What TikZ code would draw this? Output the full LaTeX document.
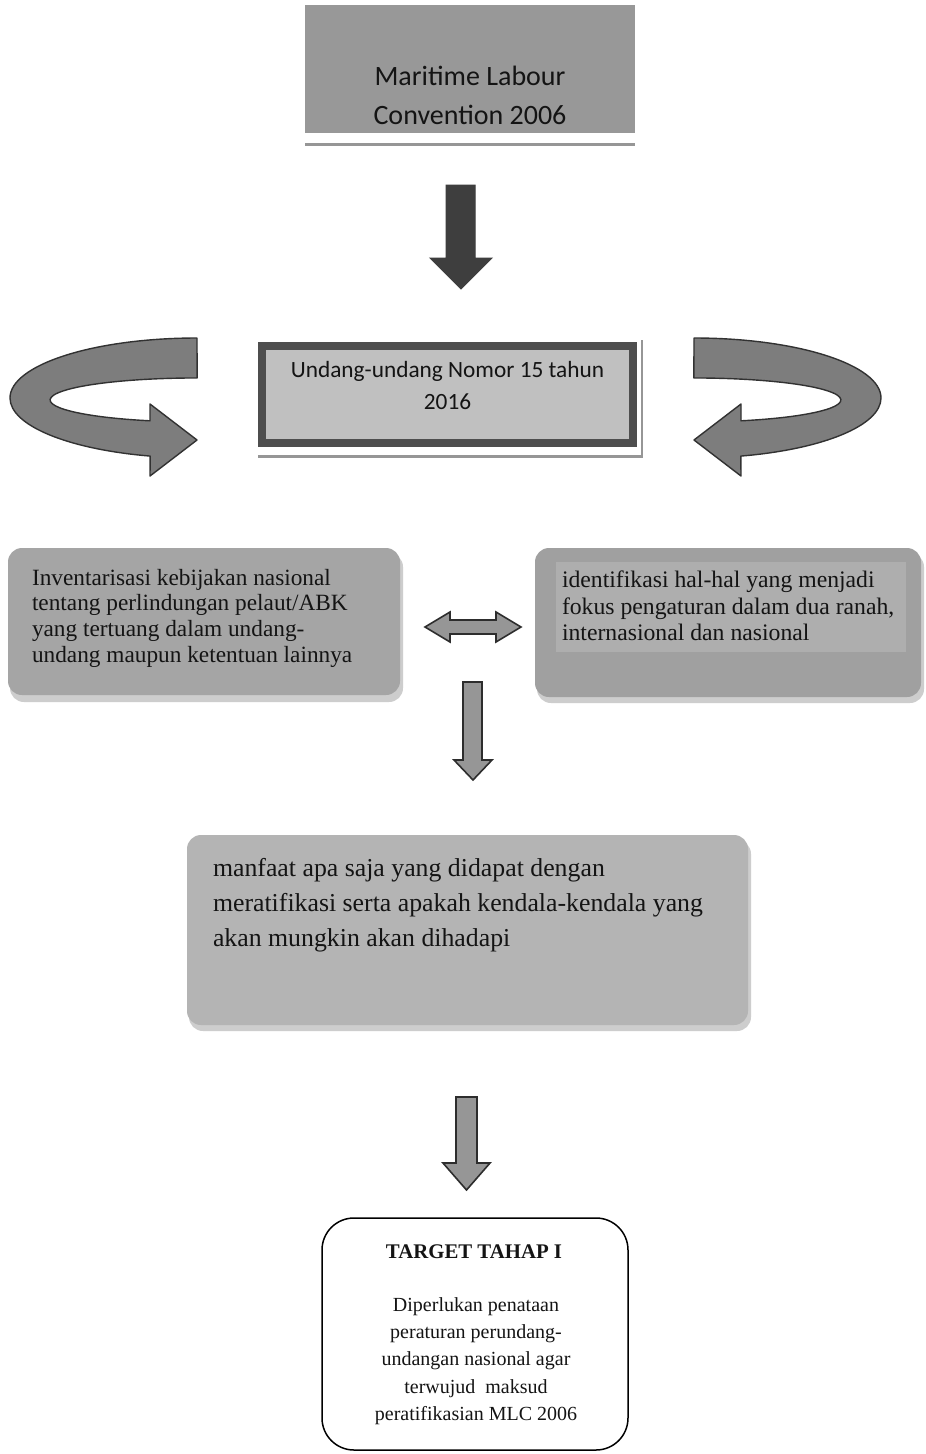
\documentclass[tikz,border=0pt]{standalone}
\usepackage{fontspec}
\setmainfont{Liberation Serif}
\newfontfamily\calib{Carlito}
\definecolor{mlcfill}{RGB}{152,152,152}
\definecolor{uuborder}{RGB}{78,78,78}
\definecolor{uufill}{RGB}{192,192,192}
\definecolor{bigarrow}{RGB}{62,62,62}
\definecolor{curvefill}{RGB}{125,125,125}
\definecolor{curveline}{RGB}{50,50,50}
\definecolor{leftfill}{RGB}{165,165,165}
\definecolor{rightfill}{RGB}{160,160,160}
\definecolor{rightinner}{RGB}{174,174,174}
\definecolor{manfill}{RGB}{180,180,180}
\definecolor{smallfill}{RGB}{150,150,150}
\definecolor{smallline}{RGB}{45,45,45}
\definecolor{shadowcol}{RGB}{150,150,150}
\definecolor{shadowlight}{RGB}{205,205,205}
\definecolor{txtdark}{RGB}{20,20,20}
\begin{document}
\begin{tikzpicture}[x=1pt,y=-1pt,
  plainbox/.style={inner sep=0pt, outer sep=0pt},
  softbox/.style={plainbox, rounded corners=14pt},
  blockarrow/.style={fill=bigarrow, draw=bigarrow, line width=1pt},
  thinarrow/.style={fill=smallfill, draw=smallline, line width=1.6pt, line join=miter},
  curvearrow/.style={fill=curvefill, draw=curveline, line width=1.4pt, line join=round},
  calibtext/.style={plainbox, align=center, text=txtdark},
  seriftext/.style={plainbox, align=left, anchor=west, text=txtdark}]
\useasboundingbox (0,0) rectangle (926,1454);
\fill[white] (0,0) rectangle (926,1454);

% --- Maritime Labour Convention box
\fill[shadowcol] (305,143) rectangle (635,146);
\node[plainbox, fill=mlcfill, minimum width=330, minimum height=128] (mlc) at (470,69) {};
\node[calibtext, font=\calib\fontsize{28}{39}\selectfont] (mlct) at (470,95) {Maritime Labour\\Convention 2006};

% --- big down arrow
\path[blockarrow] (446,185) -- (475,185) -- (475,258) -- (492,258) -- (461,289) -- (430,258) -- (446,258) -- cycle;

% --- Undang-undang box
\fill[shadowcol] (258,455) rectangle (643,458);
\fill[shadowcol] (641,340) rectangle (643,456);
\node[plainbox, draw=uuborder, line width=8pt, fill=uufill, minimum width=371, minimum height=97] (uu) at (447.5,394.5) {};
\node[calibtext, font=\calib\fontsize{23.3}{32}\selectfont] (uut) at (447.5,385.5) {Undang-undang Nomor 15 tahun\\2016};

% --- curved arrows
\path[curvearrow] (197,338) arc[start angle=270, end angle=104.5, x radius=187, y radius=60]
  -- (150,476) -- (197,440) -- (150,404) -- (150,420.8)
  arc[start angle=108.7, end angle=270, x radius=147, y radius=22] -- cycle;
\begin{scope}[xshift=891pt, xscale=-1]
\path[curvearrow] (197,338) arc[start angle=270, end angle=104.5, x radius=187, y radius=60]
  -- (150,476) -- (197,440) -- (150,404) -- (150,420.8)
  arc[start angle=108.7, end angle=270, x radius=147, y radius=22] -- cycle;
\end{scope}

% --- left box
\fill[shadowlight, rounded corners=14pt] (10,553) rectangle (403,702);
\node[softbox, fill=leftfill, minimum width=392, minimum height=147] (inv) at (204,621.5) {};
\node[seriftext, font=\fontsize{23.3}{25.7}\selectfont] (invt) at (32,618) {Inventarisasi kebijakan nasional\\tentang perlindungan pelaut/ABK\\yang tertuang dalam undang-\\undang maupun ketentuan lainnya};

% --- right box
\fill[shadowlight, rounded corners=14pt] (537,553) rectangle (924,703);
\node[softbox, fill=rightfill, minimum width=386, minimum height=149] (idf) at (728,622.5) {};
\node[plainbox, fill=rightinner, minimum width=350, minimum height=90] (idfin) at (731,607) {};
\node[seriftext, font=\fontsize{23.7}{26.5}\selectfont] (idft) at (562,606) {identifikasi hal-hal yang menjadi\\fokus pengaturan dalam dua ranah,\\internasional dan nasional};

% --- double arrow
\path[thinarrow] (425,627) -- (450,612) -- (450,620) -- (496,620) -- (496,612) -- (521,627) -- (496,642) -- (496,634) -- (450,634) -- (450,642) -- cycle;

% --- down arrow 2
\path[thinarrow] (463,682) -- (482,682) -- (482,760) -- (492,760) -- (473,780) -- (454,760) -- (463,760) -- cycle;

% --- manfaat box
\fill[shadowlight, rounded corners=14pt] (189,840) rectangle (751,1031);
\node[softbox, fill=manfill, minimum width=561, minimum height=190] (man) at (467.5,930) {};
\node[seriftext, font=\fontsize{25.8}{35}\selectfont] (mant) at (213,905) {manfaat apa saja yang didapat dengan\\meratifikasi serta apakah kendala-kendala yang\\akan mungkin akan dihadapi};

% --- down arrow 3
\path[thinarrow] (456,1097) -- (477,1097) -- (477,1163) -- (490,1163) -- (466.5,1190) -- (443,1163) -- (456,1163) -- cycle;

% --- target box
\node[plainbox, draw=black, line width=1.5pt, rounded corners=32pt, fill=white, minimum width=306, minimum height=232] (tgt) at (475,1334) {};
\node[calibtext, font=\bfseries\fontsize{20.8}{24}\selectfont] (tgtt) at (474,1252) {TARGET TAHAP I};
\node[calibtext, font=\fontsize{20}{27.3}\selectfont] (tgtb) at (476,1361) {Diperlukan penataan\\peraturan perundang-\\undangan nasional agar\\terwujud\ \ maksud\\peratifikasian MLC 2006};
\end{tikzpicture}
\end{document}
